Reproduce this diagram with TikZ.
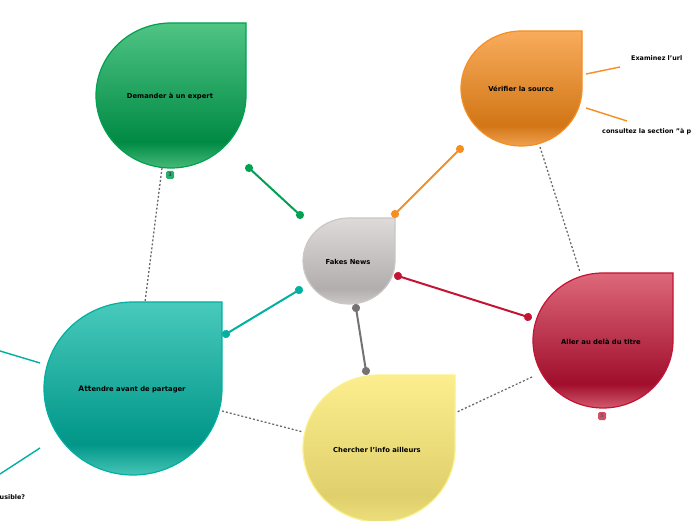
\documentclass[tikz,border=0pt]{standalone}
\usepackage{fontspec}
\setmainfont{DejaVu Sans}
\usetikzlibrary{arrows.meta}

\definecolor{gTop}{RGB}{80,196,132}
\definecolor{gDark}{RGB}{0,138,68}
\definecolor{gLow}{RGB}{70,186,120}
\definecolor{gEdge}{RGB}{0,162,82}
\definecolor{oTop}{RGB}{248,172,92}
\definecolor{oDark}{RGB}{210,118,22}
\definecolor{oLow}{RGB}{240,160,80}
\definecolor{oEdge}{RGB}{246,142,32}
\definecolor{cTop}{RGB}{222,218,218}
\definecolor{cDark}{RGB}{178,174,174}
\definecolor{cLow}{RGB}{205,200,200}
\definecolor{cEdge}{RGB}{204,198,198}
\definecolor{cLine}{RGB}{118,114,114}
\definecolor{rTop}{RGB}{222,104,122}
\definecolor{rDark}{RGB}{160,14,44}
\definecolor{rLow}{RGB}{210,90,110}
\definecolor{rEdge}{RGB}{196,20,52}
\definecolor{tTop}{RGB}{72,202,188}
\definecolor{tDark}{RGB}{0,150,136}
\definecolor{tLow}{RGB}{70,196,182}
\definecolor{tEdge}{RGB}{0,176,160}
\definecolor{yTop}{RGB}{252,238,142}
\definecolor{yDark}{RGB}{224,208,108}
\definecolor{yLow}{RGB}{236,222,124}
\definecolor{yEdge}{RGB}{250,240,140}

% vertical shadings: bottom, dark band, top
\newcommand{\dropshading}[4]{\pgfdeclareverticalshading{#1}{100bp}{color(0bp)=(#4); color(25bp)=(#4); color(34bp)=(#3); color(75bp)=(#2); color(100bp)=(#2)}}
\dropshading{greendrop}{gTop}{gDark}{gLow}
\dropshading{orangedrop}{oTop}{oDark}{oLow}
\dropshading{centerdrop}{cTop}{cDark}{cLow}
\dropshading{reddrop}{rTop}{rDark}{rLow}
\dropshading{tealdrop}{tTop}{tDark}{tLow}
\dropshading{yellowdrop}{yTop}{yDark}{yLow}

% drop outline: centre, radii, style
\newcommand{\drop}[5]{%
  \draw[#5] (#1+#3,#2+#4) -- (#1+#3,#2)
    arc[start angle=0,end angle=-180,x radius=#3,y radius=#4]
    arc[start angle=180,end angle=90,x radius=#3,y radius=#4] -- cycle;
}

\tikzset{
    droptext/.style={font=\bfseries\fontsize{6.8}{8}\selectfont, text=black, inner sep=0pt},
    leaftext/.style={font=\bfseries\fontsize{6.4}{8}\selectfont, text=black, inner sep=0pt, anchor=west},
    branch/.style={line width=2pt, draw=#1, fill=#1,
        {Circle[length=8pt]}-{Circle[length=8pt]}, shorten <=-4pt, shorten >=-4pt},
    leafline/.style={line width=1.4pt, draw=#1},
    crosslink/.style={draw=black!58, line width=1.3pt, dash pattern=on 2pt off 2pt},
    badge/.style={rounded corners=1.5pt, minimum size=8pt, inner sep=0pt,
        font=\bfseries\fontsize{5}{5}\selectfont}
}

\begin{document}
\begin{tikzpicture}[x=1pt,y=1pt]
    \useasboundingbox (0,0) rectangle (696,520);
    % cross links
    \coordinate (L1) at (162,352);
    \coordinate (L2) at (145,218);
    \coordinate (L3) at (540,373);
    \coordinate (L4) at (580,248);
    \coordinate (L5) at (532,143);
    \coordinate (L6) at (457,108);
    \coordinate (L7) at (222,109);
    \coordinate (L8) at (303,88);
    \draw[crosslink] (L1) -- (L2);
    \draw[crosslink] (L3) -- (L4);
    \draw[crosslink] (L5) -- (L6);
    \draw[crosslink] (L7) -- (L8);
    % drops
    \drop{349}{259}{46}{43}{cEdge, line width=1.2pt, shading=centerdrop}
    \drop{171}{424.5}{75}{72.5}{gEdge, line width=1.2pt, shading=greendrop}
    \drop{521.5}{431.5}{60.5}{57.5}{oEdge, line width=1.2pt, shading=orangedrop}
    \drop{603}{179.5}{70}{67.5}{rEdge, line width=1.2pt, shading=reddrop}
    \drop{133}{131.5}{89}{86.5}{tEdge, line width=1.2pt, shading=tealdrop}
    \drop{379}{71.5}{76}{73.5}{yEdge, line width=1.2pt, shading=yellowdrop}
    \node[droptext] (fakes) at (348,258) {Fakes News};
    \node[droptext] (expert) at (170,424) {Demander à un expert};
    \node[droptext] (source) at (521,431) {Vérifier la source};
    \node[droptext] (titre) at (601,178) {Aller au delà du titre};
    \node[droptext] (attendre) at (132,131) {{\fontsize{7.6}{8}\selectfont Att}endre avant de partager};
    \node[droptext] (ailleurs) at (377,70) {Chercher l'info ailleurs};
    % main branches
    \coordinate (G1) at (249,352);
    \coordinate (G2) at (300,305);
    \coordinate (O1) at (395,306);
    \coordinate (O2) at (460,371);
    \coordinate (T1) at (299,230);
    \coordinate (T2) at (226,186);
    \coordinate (R1) at (398,244);
    \coordinate (R2) at (528,203);
    \coordinate (C1) at (356,212);
    \coordinate (C2) at (366,149);
    \draw[branch=gEdge] (G1) -- (G2);
    \draw[branch=oEdge] (O1) -- (O2);
    \draw[branch=tEdge] (T1) -- (T2);
    \draw[branch=rEdge] (R1) -- (R2);
    \draw[branch=cLine] (C1) -- (C2);
    % leaves
    \coordinate (O3) at (586,446);
    \coordinate (O4) at (620,453);
    \coordinate (O5) at (586,412);
    \coordinate (O6) at (627,399);
    \coordinate (T3) at (40,157);
    \coordinate (T4) at (0,169);
    \coordinate (T5) at (40,72);
    \coordinate (T6) at (0,46);
    \draw[leafline=oEdge] (O3) -- (O4);
    \draw[leafline=oEdge] (O5) -- (O6);
    \draw[leafline=tEdge] (T3) -- (T4);
    \draw[leafline=tEdge] (T5) -- (T6);
    \node[leaftext] (url) at (631,462) {Examinez l'url};
    \node[leaftext] (propos) at (602,388) {consultez la section "à p};
    \node[leaftext] (plausible) at (-0.5,23) {usible?};
    % badges
    \node[badge, fill=gEdge!85, text=black!75] (badgeA) at (170,345) {3};
    \node[badge, fill=rEdge!75, text=black!65] (badgeB) at (602,104) {5};
\end{tikzpicture}
\end{document}
